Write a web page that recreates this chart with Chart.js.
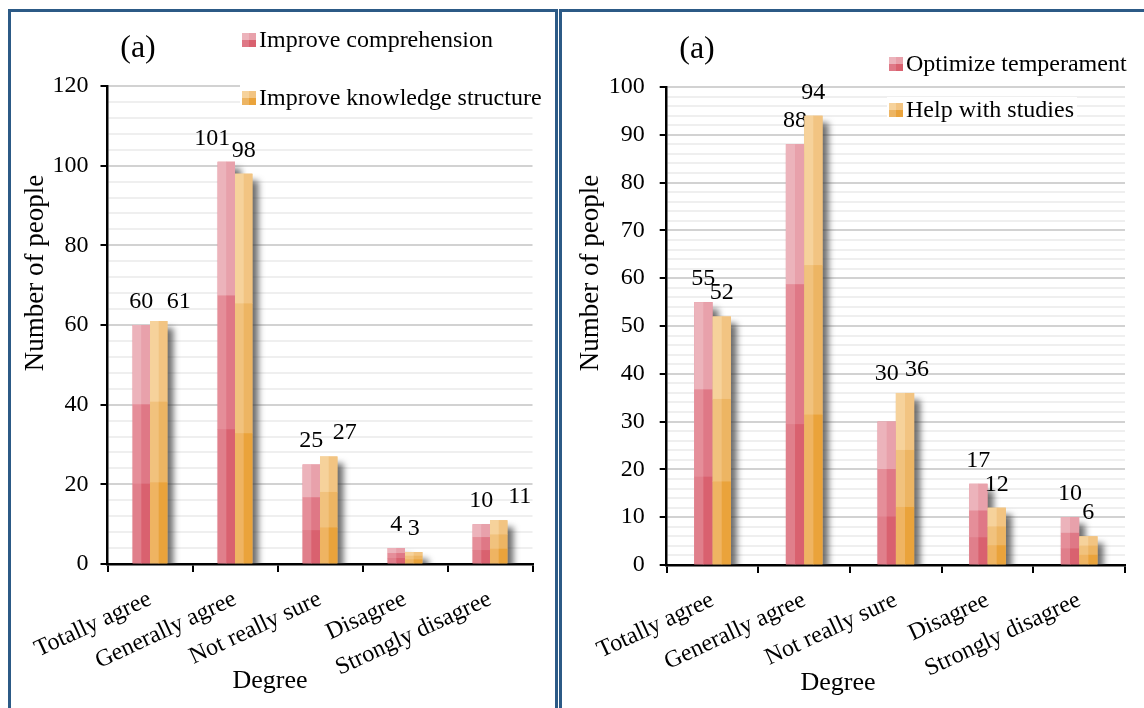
<!DOCTYPE html>
<html>
<head>
<meta charset="utf-8">
<script src="https://cdn.jsdelivr.net/npm/chart.js@4.4.0/dist/chart.umd.min.js"></script>
<style>
html, body { margin: 0; padding: 0; background: #fff; overflow: hidden; }
.panel { position: absolute; top: 9px; height: 720px; border: 3px solid #2c5a86; box-sizing: border-box; }
#p1 { left: 8px; width: 550px; }
#p2 { left: 559px; width: 600px; }
.box { position: absolute; top: 12px; height: 696px; }
#b1 { left: 11px; width: 544px; }
#b2 { left: 563px; width: 581px; }
</style>
</head>
<body>
<div class="panel" id="p1"></div>
<div class="panel" id="p2"></div>
<div class="box" id="b1"><canvas id="c1"></canvas></div>
<div class="box" id="b2"><canvas id="c2"></canvas></div>

<script>
// data
var degrees = ['Totally agree', 'Generally agree', 'Not really sure', 'Disagree', 'Strongly disagree'];
var comprehension = [60, 101, 25, 4, 10];
var knowledge = [61, 98, 27, 3, 11];
var temperament = [55, 88, 30, 17, 10];
var studies = [52, 94, 36, 12, 6];
var leftTicks = [0, 20, 40, 60, 80, 100, 120];
var rightTicks = [0, 10, 20, 30, 40, 50, 60, 70, 80, 90, 100];

var SERIF = "'Liberation Serif', 'Times New Roman', serif";

// bar shading (top / middle / bottom, left half / right half)
var pinkBands = [['#ecb3bb', '#e8a1ab'], ['#e58e99', '#df7886'], ['#e07f8b', '#d9616f']];
var orangeBands = [['#f6d29b', '#f2c482'], ['#f1c27d', '#edb563'], ['#efb462', '#eaa33b']];

Chart.defaults.font.family = SERIF;
Chart.defaults.color = '#000';

//影と3段の塗り分け、数値ラベル、凡例と軸タイトル
var barLook = {
  id: 'barLook',
  beforeDatasetsDraw: function(chart) {
    var ctx = chart.ctx, area = chart.chartArea;
    ctx.save();
    ctx.beginPath();
    ctx.rect(area.left, area.top - 20, area.right - area.left + 20, area.bottom - area.top + 20);
    ctx.clip();
    ctx.filter = 'blur(3px)';
    ctx.fillStyle = 'rgba(55,55,55,0.72)';
    chart.data.datasets.forEach(function(ds, i) {
      chart.getDatasetMeta(i).data.forEach(function(bar) {
        var p = bar.getProps(['x', 'y', 'base', 'width'], true);
        ctx.fillRect(p.x - p.width / 2 + 6, p.y + 7, p.width, p.base - p.y);
      });
    });
    ctx.restore();
  },
  afterDatasetsDraw: function(chart) {
    var ctx = chart.ctx;
    ctx.save();
    chart.data.datasets.forEach(function(ds, i) {
      chart.getDatasetMeta(i).data.forEach(function(bar, j) {
        var p = bar.getProps(['x', 'y', 'base', 'width'], true);
        var left = p.x - p.width / 2, third = (p.base - p.y) / 3;
        for (var k = 0; k < 3; k++) {
          var top = p.y + k * third;
          ctx.fillStyle = ds.bands[k][0];
          ctx.fillRect(left, top, p.width / 2 + 0.5, third + 0.5);
          ctx.fillStyle = ds.bands[k][1];
          ctx.fillRect(p.x, top, p.width / 2, third + 0.5);
        }
        var s = ds.shift[j] || [0, 0];
        ctx.fillStyle = '#000';
        ctx.font = '24px ' + SERIF;
        ctx.textAlign = 'center';
        ctx.textBaseline = 'alphabetic';
        ctx.fillText(ds.data[j], p.x + s[0], p.y - 17 + s[1]);
      });
    });
    ctx.restore();
  },
  afterDraw: function(chart, args, opts) {
    var ctx = chart.ctx;
    ctx.save();
    ctx.fillStyle = '#000';
    ctx.font = '32px ' + SERIF;
    ctx.textAlign = 'center';
    ctx.textBaseline = 'middle';
    ctx.fillText('(a)', opts.tagX, opts.tagY);

    // axis titles
    ctx.font = '26px ' + SERIF;
    ctx.fillText('Degree', opts.xTitle[0], opts.xTitle[1]);
    ctx.save();
    ctx.translate(opts.yTitle[0], opts.yTitle[1]);
    ctx.rotate(-Math.PI / 2);
    ctx.font = '27px ' + SERIF;
    ctx.fillText('Number of people', 0, 0);
    ctx.restore();

    // legend
    ctx.font = '24px ' + SERIF;
    ctx.textAlign = 'left';
    chart.data.datasets.forEach(function(ds, i) {
      var mx = opts.legendX, my = opts.legendY[i];
      var tw = ctx.measureText(ds.label).width;
      ctx.fillStyle = '#fff';
      ctx.fillRect(mx - 2, my - 13, tw + 22, 26);
      ctx.fillStyle = ds.bands[0][0]; ctx.fillRect(mx, my - 7, 7, 7);
      ctx.fillStyle = ds.bands[0][1]; ctx.fillRect(mx + 7, my - 7, 7, 7);
      ctx.fillStyle = ds.bands[1][1]; ctx.fillRect(mx, my, 7, 7);
      ctx.fillStyle = ds.bands[2][1]; ctx.fillRect(mx + 7, my, 7, 7);
      ctx.fillStyle = '#000';
      ctx.fillText(ds.label, mx + 17, my + 1);
    });
    ctx.restore();
  }
};

function makeChart(id, sets, max, step, majors, L) {
  return new Chart(document.getElementById(id), {
    type: 'bar',
    data: { labels: degrees, datasets: sets },
    plugins: [barLook],
    options: {
      responsive: true,
      maintainAspectRatio: false,
      animation: false,
      layout: { padding: { left: 0, top: L.top, right: L.right, bottom: 0 } },
      datasets: { bar: { categoryPercentage: L.cat, barPercentage: 1, borderWidth: 0 } },
      plugins: {
        legend: { display: false },
        tooltip: { enabled: false },
        barLook: { tagX: L.tagX, tagY: L.tagY, legendX: L.legX, legendY: L.legY, xTitle: L.xt, yTitle: L.yt }
      },
      scales: {
        x: {
          offset: true,
          grid: { offset: true, drawOnChartArea: false, drawTicks: true, tickLength: 8, color: '#000', lineWidth: 2 },
          border: { color: '#000', width: 2.5 },
          ticks: { autoSkip: false, minRotation: 25, maxRotation: 25, padding: 13, font: { size: 24 } },
          afterFit: function(s) { s.height = L.xh; }
        },
        y: {
          min: 0, max: max,
          border: { color: '#000', width: 2.5 },
          grid: {
            lineWidth: 2,
            color: function(c) { return majors.indexOf(c.tick.value) >= 0 ? '#d2d2d2' : '#efefef'; },
            tickColor: function(c) { return majors.indexOf(c.tick.value) >= 0 ? '#000' : 'rgba(0,0,0,0)'; },
            tickLength: 7
          },
          ticks: {
            stepSize: step, autoSkip: false, padding: L.tp, font: { size: 24 },
            callback: function(v) { return majors.indexOf(v) >= 0 ? v : ''; }
          },
          afterFit: function(s) { s.width = L.yw; }
        }
      }
    }
  });
}

makeChart('c1', [
  { label: 'Improve comprehension', data: comprehension, backgroundColor: '#e58e99', bands: pinkBands,
    shift: [[0, 0], [-14, 0], [0, 0], [0, 0], [0, 0]] },
  { label: 'Improve knowledge structure', data: knowledge, backgroundColor: '#f1c27d', bands: orangeBands,
    shift: [[20, 4], [0, 0], [16, 0], [0, 0], [21, 0]] }
], 120, 4, leftTicks,
  { top: 74, right: 22.5, xh: 144, yw: 96.5, cat: 0.41, tp: 12,
    tagX: 127, tagY: 37, legX: 231, legY: [28, 86], xt: [259, 669], yt: [25, 261] });

makeChart('c2', [
  { label: 'Optimize temperament', data: temperament, backgroundColor: '#e58e99', bands: pinkBands,
    shift: [[0, 0], [0, 0], [0, -25], [0, 0], [0, 0]] },
  { label: 'Help with studies', data: studies, backgroundColor: '#f1c27d', bands: orangeBands,
    shift: [[0, 0], [0, 0], [12, 0], [0, 0], [0, 0]] }
], 100, 2, rightTicks,
  { top: 75, right: 19, xh: 143, yw: 103.7, cat: 0.4, tp: 15,
    tagX: 134, tagY: 38, legX: 326, legY: [52, 98], xt: [275, 671], yt: [28, 261] });
</script>
</body>
</html>
